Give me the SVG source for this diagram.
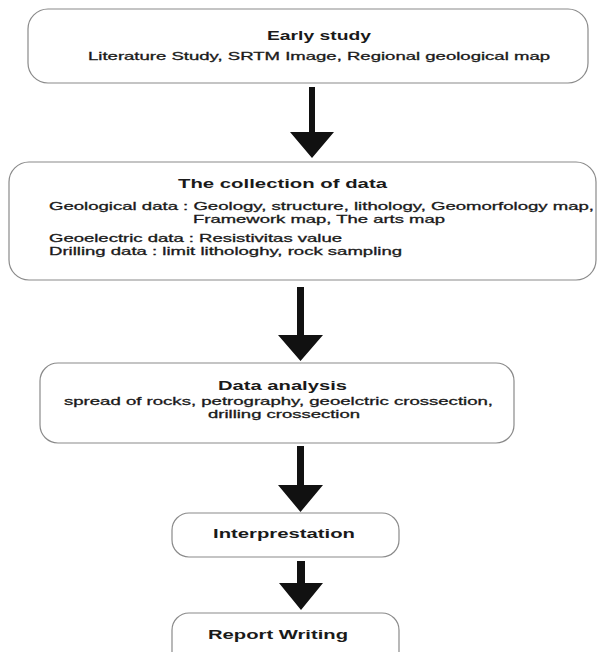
<svg xmlns="http://www.w3.org/2000/svg" width="597" height="652" viewBox="0 0 597 652">
<style>
.box{fill:#fff;stroke:#8a8a8a;stroke-width:1.2}
.t{font-family:"Liberation Sans",Arial,sans-serif;fill:#1a1a1a}
.h{font-size:13.5px;font-weight:bold}
.b{font-size:11.2px;stroke:#1a1a1a;stroke-width:0.3}
.arrow{fill:#111;stroke:none}
</style>
<rect width="597" height="652" fill="#fff"/>
<g id="connectors">
<path class="arrow" d="M309,87 H315 V132 H334 L312,158 L290,132 H309 Z"/>
<path class="arrow" d="M297,287 H304 V335 H323 L300.5,361 L278,335 H297 Z"/>
<path class="arrow" d="M297,446 H304 V485 H323 L300.5,512 L278,485 H297 Z"/>
<path class="arrow" d="M297,561 H305 V583 H323 L301,610 L279,583 H297 Z"/>
</g>
<g id="early-study">
<rect class="box" x="28" y="9" width="560" height="74" rx="20"/>
<text class="t h" x="267" y="40" textLength="104" lengthAdjust="spacingAndGlyphs">Early study</text>
<text class="t b" x="88" y="60" textLength="462" lengthAdjust="spacingAndGlyphs">Literature Study, SRTM Image, Regional geological map</text>
</g>
<g id="collection">
<rect class="box" x="9" y="162" width="587" height="118" rx="20"/>
<text class="t h" x="178" y="188" textLength="209" lengthAdjust="spacingAndGlyphs">The collection of data</text>
<text class="t b" x="49" y="210" textLength="545" lengthAdjust="spacingAndGlyphs">Geological data : Geology, structure, lithology, Geomorfology map,</text>
<text class="t b" x="193" y="223" textLength="252" lengthAdjust="spacingAndGlyphs">Framework map, The arts map</text>
<text class="t b" x="49" y="242" textLength="293" lengthAdjust="spacingAndGlyphs">Geoelectric data : Resistivitas value</text>
<text class="t b" x="49" y="255" textLength="353" lengthAdjust="spacingAndGlyphs">Drilling data : limit lithologhy, rock sampling</text>
</g>
<g id="data-analysis">
<rect class="box" x="40" y="363" width="474" height="80" rx="18"/>
<text class="t h" x="218" y="390" textLength="129" lengthAdjust="spacingAndGlyphs">Data analysis</text>
<text class="t b" x="64" y="405" textLength="429" lengthAdjust="spacingAndGlyphs">spread of rocks, petrography, geoelctric crossection,</text>
<text class="t b" x="208" y="418" textLength="152" lengthAdjust="spacingAndGlyphs">drilling crossection</text>
</g>
<g id="interpretation">
<rect class="box" x="172" y="513" width="227" height="44" rx="17"/>
<text class="t h" x="213" y="538" textLength="142" lengthAdjust="spacingAndGlyphs">Interprestation</text>
</g>
<g id="report-writing">
<rect class="box" x="172" y="613" width="227" height="60" rx="17"/>
<text class="t h" x="208" y="639" textLength="140" lengthAdjust="spacingAndGlyphs">Report Writing</text>
</g>
</svg>
